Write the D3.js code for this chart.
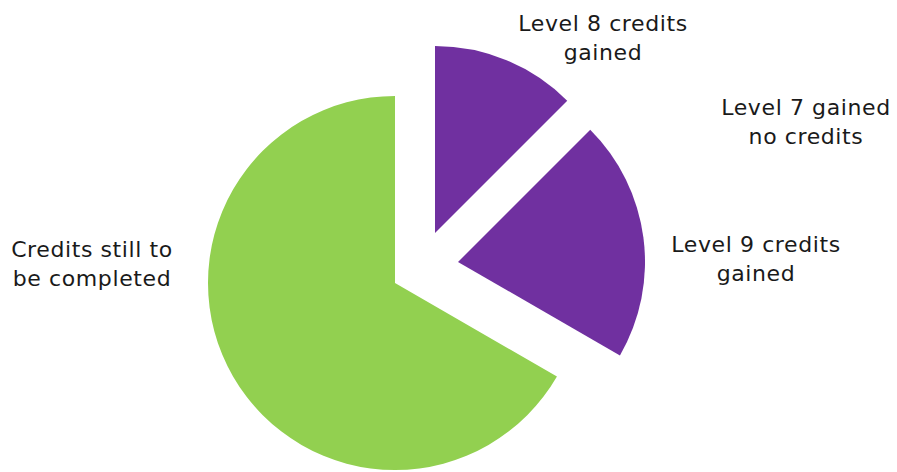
<!DOCTYPE html>
<html>
<head>
<meta charset="utf-8">
<script src="https://cdn.jsdelivr.net/npm/d3@7"></script>
<style>
  html, body { margin: 0; padding: 0; background: #fff; }
  svg { display: block; }
  text { font-family: "DejaVu Sans", Verdana, sans-serif; font-size: 22px; letter-spacing: 0.6px; fill: #1a1a1a; }
</style>
</head>
<body>
<svg id="chart" width="897" height="472"></svg>
<script>
// ---- data ----
const categories = ["Level 8 credits gained", "Level 7 gained no credits", "Level 9 credits gained", "Credits still to be completed"];
const credits = [15, 0, 25, 80];
const labelLines = [
  ["Level 8 credits", "gained"],
  ["Level 7 gained", "no credits"],
  ["Level 9 credits", "gained"],
  ["Credits still to", "be completed"]
];

// ---- styling / layout (not data) ----
const colors = ["#7030A0", "#7030A0", "#7030A0", "#92D050"];
const explode = [[40, -50], [0, 0], [63, -21], [0, 0]];
const labelPos = [[603, 31], [806, 115], [756, 252], [92, 257]];
const lineGap = 29;
const cx = 395, cy = 283, radius = 187;

const svg = d3.select("#chart");
const pie = d3.pie().sort(null).value(d => d.value);
const arc = d3.arc().innerRadius(0).outerRadius(radius);

const data = categories.map((c, i) => ({ name: c, value: credits[i], i }));
const arcs = pie(data);

const g = svg.append("g").attr("transform", `translate(${cx},${cy})`);
g.selectAll("path")
  .data(arcs.filter(a => a.data.value > 0))
  .join("path")
  .attr("d", arc)
  .attr("fill", d => colors[d.data.i])
  .attr("transform", d => `translate(${explode[d.data.i][0]},${explode[d.data.i][1]})`);

const labels = svg.append("g");
data.forEach((d, i) => {
  const t = labels.append("text")
    .attr("text-anchor", "middle")
    .attr("x", labelPos[i][0])
    .attr("y", labelPos[i][1]);
  labelLines[i].forEach((line, k) => {
    t.append("tspan")
      .attr("x", labelPos[i][0])
      .attr("dy", k === 0 ? 0 : lineGap)
      .text(line);
  });
});
</script>
</body>
</html>
